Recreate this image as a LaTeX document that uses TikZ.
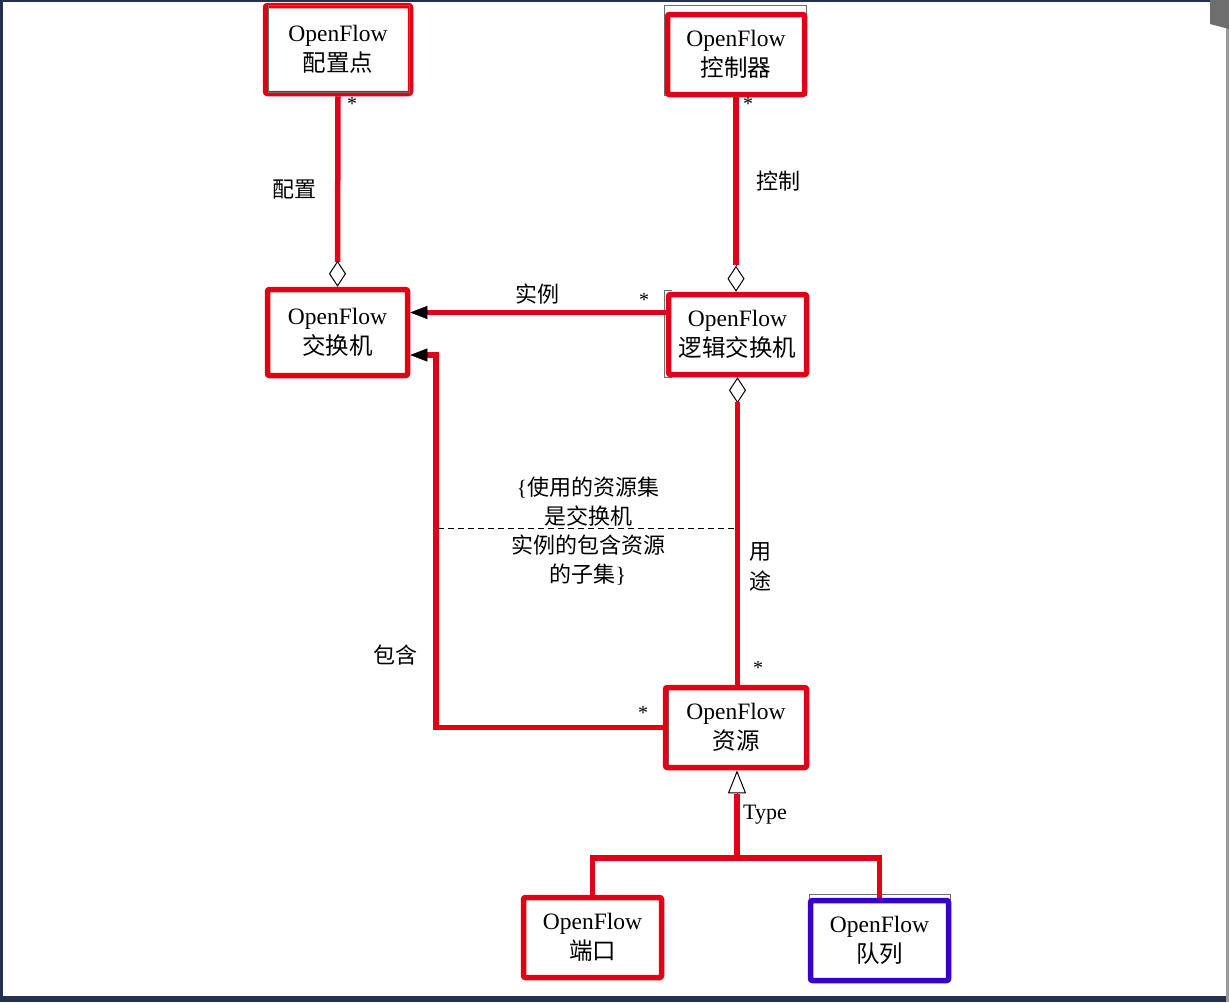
\documentclass[tikz,border=0pt]{standalone}
\usepackage{fontspec}
\setmainfont{Liberation Serif}
\newfontfamily\cjk{Noto Sans CJK SC}
\usetikzlibrary{arrows.meta,calc}
\definecolor{ofred}{RGB}{226,0,22}
\definecolor{ofblue}{RGB}{55,0,205}
\definecolor{framec}{RGB}{35,48,78}
\definecolor{umlgray}{RGB}{110,110,110}
\tikzset{
  aggtip/.tip={Diamond[open,color=black,line width=1pt,length=26pt,width=17pt]},
  soltip/.tip={Triangle[color=black,fill=black,length=17pt,width=13pt]},
  gentip/.tip={Triangle[open,color=black,line width=1pt,length=23pt,width=18pt]}
}
\begin{document}
\begin{tikzpicture}[x=1pt,y=-1pt,
  box/.style={draw=ofred,line width=5.5pt,rounded corners=2pt,minimum width=145pt,minimum height=87pt,align=center,inner sep=0pt,font=\fontsize{23.5}{30}\selectfont},
  bluebox/.style={box,draw=ofblue},
  redline/.style={draw=ofred,line width=5.5pt},
  umlrect/.style={draw=umlgray,line width=0.8pt},
  lbl/.style={inner sep=0pt,font=\cjk\fontsize{22}{28}\selectfont},
  star/.style={inner sep=0pt,font=\fontsize{20}{20}\selectfont}
]
\useasboundingbox (0,0) rectangle (1229,1002);
\fill[white] (0,0) rectangle (1229,1002);

% screenshot frame
\fill[framec] (0,0) rectangle (1229,2);
\fill[framec] (0,0) rectangle (3,1002);
\fill[framec] (0,996) rectangle (1229,1002);
\fill[umlgray!70] (1226,0) rectangle (1229,1002);
\fill[umlgray] (1210,0) -- (1229,0) -- (1229,29) -- (1210,24) -- cycle;

% underlying thin UML outlines
\draw[umlrect] (664,5) rectangle (806,95);
\draw[umlrect] (664,290) -- (672,290) (664,290) -- (664,377) -- (672,377);
\draw[umlrect] (809,894) rectangle (950,980);
\draw[umlrect] (668,689) rectangle (805,766);

% boxes
\node[box,minimum width=145pt,minimum height=88pt] (pz) at (338,49.5) {OpenFlow\\{\cjk 配置点}};
\node[box,minimum width=137pt,minimum height=80pt] (kz) at (736,54.5) {OpenFlow\\{\cjk 控制器}};
\node[box,minimum width=140pt,minimum height=86pt] (jh) at (337.5,332.5) {OpenFlow\\{\cjk 交换机}};
\node[box,minimum width=138pt,minimum height=80pt] (lj) at (737.5,334.5) {OpenFlow\\{\cjk 逻辑交换机}};
\node[box,minimum width=141pt,minimum height=80pt] (zy) at (736,727.5) {OpenFlow\\{\cjk 资源}};
\node[box,minimum width=138pt,minimum height=80pt] (dk) at (592.5,937.5) {OpenFlow\\{\cjk 端口}};
\node[bluebox,minimum width=138pt,minimum height=80pt] (dl) at (879.5,940.5) {OpenFlow\\{\cjk 队列}};
\draw[umlrect] (268,5) rectangle (409,92);

% 配置 aggregation
\draw[redline] (pz.south) -- ($(jh.north)+(0,-25)$) coordinate (pzd);
\draw[aggtip-] (jh.north) -- (pzd);
\node[star] (s1) at (352,104) {*};
\node[lbl] (l1) at (294,190) {配置};

% 控制 aggregation
\draw[redline] (kz.south) -- ($(kz.south |- lj.north)+(0,-27)$) coordinate (kzd);
\draw[aggtip-] (kz.south |- lj.north) -- (kzd);
\node[star] (s2) at (748,104) {*};
\node[lbl] (l2) at (778,181) {控制};

% 实例
\coordinate (p1) at ([yshift=22pt]lj.west);
\draw[redline] (p1) -- ($(p1 -| jh.east)+(17,0)$) coordinate (p1e);
\draw[-soltip] (p1e) -- (p1 -| jh.east);
\node[star] (s3) at (644,300) {*};
\node[lbl] (l3) at (537,294) {实例};

% 包含
\coordinate (bend) at (436,355);
\draw[redline] (zy.west) -| (bend) -- ($(bend -| jh.east)+(17,0)$) coordinate (p2e);
\draw[-soltip] (p2e) -- (bend -| jh.east);
\node[star] (s4) at (643,713) {*};
\node[lbl] (l4) at (395,655) {包含};

% 用途 aggregation
\draw[aggtip-] (lj.south) -- ++(0,25) coordinate (ljd);
\draw[redline] (ljd) -- (ljd |- zy.north);
\node[star] (s5) at (758,668) {*};
\node[lbl,align=center,font=\cjk\fontsize{22}{30}\selectfont] (l5) at (760,567) {用\\途};

% constraint
\coordinate (d1) at (438,528);
\coordinate (d2) at (735,528);
\draw[line width=1pt,dash pattern=on 6pt off 4pt] (d1) -- (d2);
\node[inner sep=0pt,align=center,font=\fontsize{22}{29}\selectfont] (cons) at (588,531)
  {\{{\cjk 使用的资源集}\\{\cjk 是交换机}\\{\cjk 实例的包含资源}\\{\cjk 的子集}\}};

% generalization
\coordinate (j) at (737,858);
\draw[redline] (dk.north) |- (j) -| (dl.north);
\draw[redline] (j) -- ($(j |- zy.south)+(0,24)$) coordinate (jt);
\draw[-gentip] (jt) -- (j |- zy.south);
\node[inner sep=0pt,font=\fontsize{22}{22}\selectfont] (ty) at (765,815) {Type};
\end{tikzpicture}
\end{document}
